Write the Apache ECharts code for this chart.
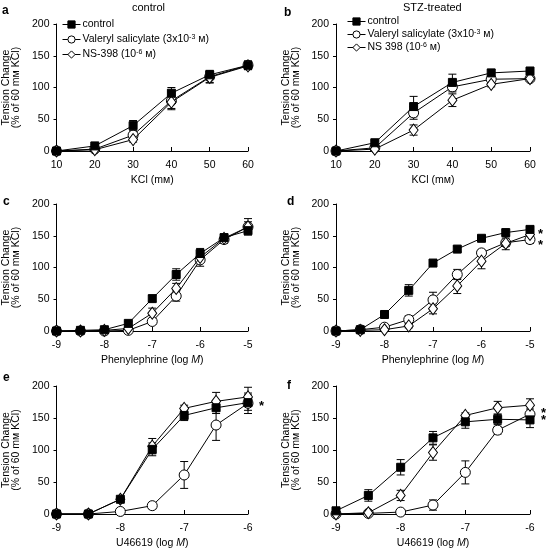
<!DOCTYPE html>
<html><head><meta charset="utf-8">
<script src="https://cdn.jsdelivr.net/npm/echarts@6/dist/echarts.min.js"></script>
<style>html,body{margin:0;padding:0;background:#fff}#c{width:549px;height:550px}</style>
</head><body><div id="c"></div>
<script>
// ---------- data ----------
const kclX = [10, 20, 30, 40, 50, 60];
const pheX = [-9, -8.5, -8, -7.5, -7, -6.5, -6, -5.5, -5];
const uX = [-9, -8.5, -8, -7.5, -7, -6.5, -6];

// panel a (control, KCl)
const a_control = [0, 8, 40, 91, 120, 135];
const a_control_err = [0, 2, 8, 9, 6, 7];
const a_valeryl = [0, 3, 25, 79, 117, 135];
const a_valeryl_err = [0, 2, 5, 14, 10, 6];
const a_ns = [0, 2, 18, 77, 116, 134];
const a_ns_err = [0, 1, 4, 10, 8, 5];

// panel b (STZ, KCl)
const b_control = [0, 13, 70, 108, 123, 126];
const b_control_err = [0, 3, 16, 13, 5, 5];
const b_valeryl = [0, 5, 60, 101, 113, 114];
const b_valeryl_err = [0, 2, 10, 8, 5, 4];
const b_ns = [0, 3, 33, 80, 105, 114];
const b_ns_err = [0, 1, 8, 10, 4, 4];

// panel c (control, phenylephrine)
const c_control = [0, 1, 2, 12, 51, 89, 122, 147, 158];
const c_control_err = [0, 1, 1, 3, 5, 9, 8, 6, 5];
const c_valeryl = [0, 0, 0, 1, 15, 55, 112, 144, 164];
const c_valeryl_err = [0, 0, 0, 1, 4, 8, 10, 6, 13];
const c_ns = [0, 0, 1, 4, 28, 67, 116, 146, 164];
const c_ns_err = [0, 0, 1, 2, 8, 8, 8, 6, 8];

// panel d (STZ, phenylephrine)
const d_control = [0, 2, 26, 64, 107, 129, 146, 155, 160];
const d_control_err = [0, 1, 3, 9, 4, 4, 4, 4, 4];
const d_valeryl = [0, 2, 6, 18, 49, 89, 123, 139, 144];
const d_valeryl_err = [0, 1, 2, 6, 12, 8, 5, 6, 6];
const d_ns = [0, 1, 2, 8, 35, 71, 110, 138, 152];
const d_ns_err = [0, 0, 1, 3, 8, 12, 12, 10, 6];

// panel e (control, U46619)
const e_control = [0, 0, 23, 101, 154, 166, 174];
const e_control_err = [0, 1, 3, 10, 8, 9, 12];
const e_valeryl = [0, 0, 4, 13, 61, 139, 173];
const e_valeryl_err = [0, 0, 1, 5, 21, 24, 16];
const e_ns = [0, 0, 23, 106, 165, 176, 183];
const e_ns_err = [0, 1, 3, 12, 5, 14, 15];

// panel f (STZ, U46619)
const f_control = [5, 29, 73, 119, 144, 148, 147];
const f_control_err = [3, 9, 12, 10, 10, 8, 12];
const f_valeryl = [0, 1, 3, 14, 65, 131, 156];
const f_valeryl_err = [0, 1, 1, 8, 18, 6, 8];
const f_ns = [0, 2, 29, 96, 154, 166, 170];
const f_ns_err = [0, 1, 8, 12, 4, 10, 10];

const yTicks = [0, 50, 100, 150, 200];
const colTitles = ['control', 'STZ-treated'];
const panelLetters = ['a', 'b', 'c', 'd', 'e', 'f'];

// ---------- layout ----------
const FONT = '"Liberation Sans", Arial, sans-serif';
const panels = [
  { grid: {left: 56, top: 24, width: 192, height: 127}, x: kclX, xmin: 10, xmax: 60, xint: 10, xname: 'KCl (mм)',
    s: [[a_valeryl, a_valeryl_err], [a_ns, a_ns_err], [a_control, a_control_err]], names: ['Valeryl salicylate', 'NS-398', 'control'] },
  { grid: {left: 336, top: 24, width: 194, height: 127}, x: kclX, xmin: 10, xmax: 60, xint: 10, xname: 'KCl (mм)',
    s: [[b_valeryl, b_valeryl_err], [b_ns, b_ns_err], [b_control, b_control_err]], names: ['Valeryl salicylate', 'NS 398', 'control'] },
  { grid: {left: 56, top: 204, width: 192, height: 127}, x: pheX, xmin: -9, xmax: -5, xint: 1, xname: '{n|Phenylephrine (log }{i|M}{n|)}',
    s: [[c_valeryl, c_valeryl_err], [c_ns, c_ns_err], [c_control, c_control_err]], names: ['Valeryl salicylate', 'NS-398', 'control'] },
  { grid: {left: 336, top: 204, width: 194, height: 127}, x: pheX, xmin: -9, xmax: -5, xint: 1, xname: '{n|Phenylephrine (log }{i|M}{n|)}',
    s: [[d_valeryl, d_valeryl_err], [d_ns, d_ns_err], [d_control, d_control_err]], names: ['Valeryl salicylate', 'NS 398', 'control'] },
  { grid: {left: 56, top: 386, width: 192, height: 128}, x: uX, xmin: -9, xmax: -6, xint: 1, xname: '{n|U46619 (log }{i|M}{n|)}',
    s: [[e_valeryl, e_valeryl_err], [e_ns, e_ns_err], [e_control, e_control_err]], names: ['Valeryl salicylate', 'NS-398', 'control'] },
  { grid: {left: 336, top: 386, width: 194, height: 128}, x: uX, xmin: -9, xmax: -6, xint: 1, xname: '{n|U46619 (log }{i|M}{n|)}',
    s: [[f_valeryl, f_valeryl_err], [f_ns, f_ns_err], [f_control, f_control_err]], names: ['Valeryl salicylate', 'NS 398', 'control'] }
];
const symbols = ['circle', 'diamond', 'rect'];
const symbolSizes = [10, [9, 12], 8];
const symbolFills = ['#fff', '#fff', '#000'];

const grids = [], xAxes = [], yAxes = [], series = [];
panels.forEach((p, i) => {
  grids.push(Object.assign({containLabel: false}, p.grid));
  xAxes.push({
    type: 'value', gridIndex: i, min: p.xmin, max: p.xmax, interval: p.xint,
    name: p.xname, nameLocation: 'middle', nameGap: 24,
    nameTextStyle: {fontFamily: FONT, fontSize: 10.5, color: '#000',
      rich: {n: {fontFamily: FONT, fontSize: 10.5, color: '#000'}, i: {fontFamily: FONT, fontSize: 10.5, fontStyle: 'italic', color: '#000'}}},
    axisLine: {onZero: false, lineStyle: {color: '#000', width: 1}},
    axisTick: {inside: true, length: 4, lineStyle: {color: '#000'}},
    axisLabel: {fontFamily: FONT, fontSize: 10.5, color: '#000', margin: 9},
    splitLine: {show: false}
  });
  yAxes.push({
    type: 'value', gridIndex: i, min: yTicks[0], max: yTicks[yTicks.length - 1], interval: yTicks[1] - yTicks[0],
    name: 'Tension Change\n(% of 60 mм KCl)', nameLocation: 'middle', nameGap: 35,
    nameTextStyle: {fontFamily: FONT, fontSize: 10.5, color: '#000', lineHeight: 10},
    axisLine: {show: true, lineStyle: {color: '#000', width: 1}},
    axisTick: {show: true, length: 3, lineStyle: {color: '#000'}},
    axisLabel: {fontFamily: FONT, fontSize: 10.5, color: '#000', margin: 7},
    splitLine: {show: false}
  });
  p.s.forEach((pair, k) => {
    const vals = pair[0], errs = pair[1];
    series.push({
      type: 'custom', xAxisIndex: i, yAxisIndex: i, silent: true, z: 1,
      data: p.x.map((xv, j) => [xv, vals[j] - errs[j], vals[j] + errs[j]]).filter(d => d[2] - d[1] > 0.5),
      renderItem: function (params, api) {
        const lo = api.coord([api.value(0), api.value(1)]);
        const hi = api.coord([api.value(0), api.value(2)]);
        const w = 4;
        const st = {stroke: '#000', lineWidth: 1};
        return {type: 'group', children: [
          {type: 'line', shape: {x1: lo[0], y1: lo[1], x2: hi[0], y2: hi[1]}, style: st},
          {type: 'line', shape: {x1: hi[0] - w, y1: hi[1], x2: hi[0] + w, y2: hi[1]}, style: st},
          {type: 'line', shape: {x1: lo[0] - w, y1: lo[1], x2: lo[0] + w, y2: lo[1]}, style: st}
        ]};
      }
    });
    series.push({
      type: 'line', name: p.names[k], xAxisIndex: i, yAxisIndex: i, z: 2 + k,
      data: p.x.map((xv, j) => [xv, vals[j]]),
      symbol: symbols[k], symbolSize: symbolSizes[k], showSymbol: true, showAllSymbol: true,
      lineStyle: {color: '#000', width: 1},
      itemStyle: {color: symbolFills[k], borderColor: '#000', borderWidth: 1},
      emphasis: {disabled: true}, silent: true
    });
  });
});

const rich = {
  n: {fontFamily: FONT, fontSize: 10.5, color: '#000', lineHeight: 11},
  s: {fontFamily: FONT, fontSize: 7, color: '#000', verticalAlign: 'top', lineHeight: 8, padding: [0, 0, 3, 0]}
};
const legendLabels = {
  'control': '{n|control}',
  'Valeryl salicylate': '{n|Valeryl salicylate (3x10}{s|-3}{n| м)}',
  'NS-398': '{n|NS-398 (10}{s|-6}{n| м)}',
  'NS 398': '{n|NS 398 (10}{s|-6}{n| м)}'
};
function legend(left, top, names, gap) {
  return {
    orient: 'vertical', left: left, top: top, itemWidth: 18, itemHeight: 9, itemGap: gap,
    data: names, selectedMode: false,
    itemStyle: {borderWidth: 1, borderColor: '#000'},
    lineStyle: {width: 1, color: '#000'},
    formatter: n => legendLabels[n],
    textStyle: {rich: rich, padding: [0, 0, 0, -3]}
  };
}

const graphics = [];
colTitles.forEach((t, i) => graphics.push({type: 'text', left: i === 0 ? 132 : 403, top: 2,
  style: {text: t, font: '11px ' + FONT, fill: '#000'}}));
const letterPos = [[2, 5], [284, 7], [3, 196], [287, 196], [3, 372], [287, 380]];
panelLetters.forEach((l, i) => graphics.push({type: 'text', left: letterPos[i][0], top: letterPos[i][1],
  style: {text: l, font: 'bold 12px ' + FONT, fill: '#000'}}));
// significance asterisks
[[538, 228], [538, 239], [259, 400], [541, 407], [541, 414]].forEach(p =>
  graphics.push({type: 'text', left: p[0], top: p[1], style: {text: '*', font: 'bold 13px ' + FONT, fill: '#000'}}));

const chart = echarts.init(document.getElementById('c'), null, {renderer: 'canvas'});
chart.setOption({
  animation: false,
  backgroundColor: '#fff',
  grid: grids, xAxis: xAxes, yAxis: yAxes, series: series,
  legend: [legend(57, 14, ['control', 'Valeryl salicylate', 'NS-398'], 4),
           legend(342, 11, ['control', 'Valeryl salicylate', 'NS 398'], 2)],
  graphic: graphics
});
</script></body></html>
